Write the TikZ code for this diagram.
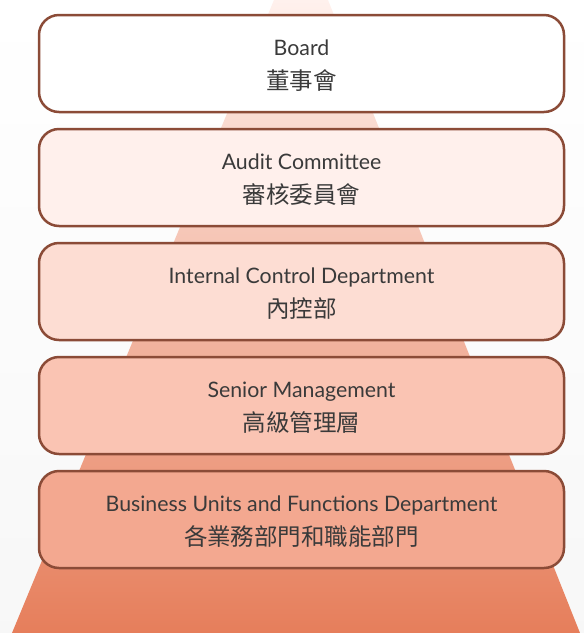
\documentclass[tikz,border=0pt]{standalone}
\usepackage{fontspec}
\setmainfont{Lato}
\newfontfamily\cjk{Noto Sans CJK TC}
\usepackage{tikz}
\usetikzlibrary{positioning}

\definecolor{rim}{HTML}{8B4B37}
\definecolor{ink}{HTML}{3A3A3A}
\definecolor{pyrtop}{HTML}{FFF1ED}
\definecolor{pyrbot}{HTML}{E67E5B}
\definecolor{lvlA}{HTML}{FFFFFF}
\definecolor{lvlB}{HTML}{FFF0EC}
\definecolor{lvlC}{HTML}{FDDDD3}
\definecolor{lvlD}{HTML}{FAC4B3}
\definecolor{lvlE}{HTML}{F3A890}

\newcommand{\zh}[1]{{\cjk\fontsize{23.5}{34}\selectfont #1}}
\newcommand{\en}[1]{\rule{0pt}{19.5pt}#1}

\begin{document}
\begin{tikzpicture}
  [x=1pt,y=-1pt,every node/.style={draw=rim,line width=2.5pt,rounded corners=20pt,
   minimum width=525pt,minimum height=97pt,align=center,text=ink,
   font=\fontsize{21.3}{34}\selectfont}]

  \tikzstyle{tier} = [node distance=14.5pt]

  % background and pyramid
  \shade[top color=white,bottom color=black!3] (0,0) rectangle (584,633);
  \shade[top color=pyrtop,bottom color=pyrbot] (274,0) -- (328,0) -- (580,633) -- (12,633) -- cycle;

  \node[tier,fill=lvlA] (board) at (301.5,63.5) {\en{Board}\\\zh{董事會}};
  \node[tier,fill=lvlB,below=of board] (audit) {\en{Audit Committee}\\\zh{審核委員會}};
  \node[tier,fill=lvlC,below=of audit] (control) {\en{Internal Control Department}\\\zh{內控部}};
  \node[tier,fill=lvlD,below=of control] (senior) {\en{Senior Management}\\\zh{高級管理層}};
  \node[tier,fill=lvlE,below=of senior] (units) {\en{Business Units and Functions Department}\\\zh{各業務部門和職能部門}};
\end{tikzpicture}
\end{document}
